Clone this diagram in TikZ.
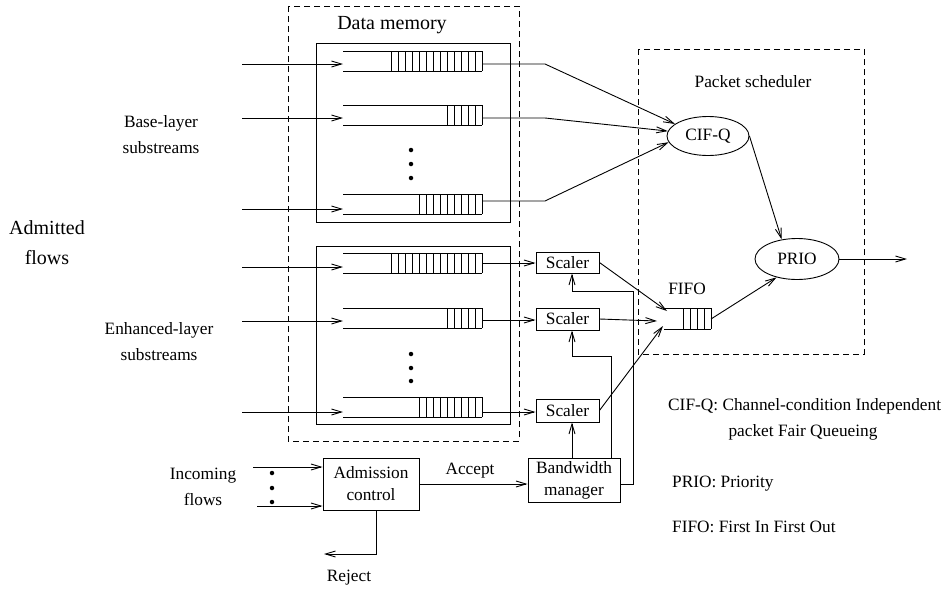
\documentclass[tikz,border=0pt]{standalone}
\usepackage{fontspec}
\setmainfont{Liberation Serif}
\usetikzlibrary{arrows.meta,shapes.geometric}
\tikzset{
  ln/.style={line width=0.9pt},
  arr/.style={ln,-{Straight Barb[length=10pt,width=6pt,line width=0.9pt]}},
  dashbox/.style={ln,dash pattern=on 6pt off 4pt},
  blk/.style={draw,ln,inner sep=0pt,align=center,font=\fontsize{17.3}{22}\selectfont},
  ell/.style={draw,ln,ellipse,inner sep=0pt,font=\fontsize{17.3}{22}\selectfont},
  txt/.style={inner sep=0pt,align=center,font=\fontsize{17.3}{26}\selectfont},
  bigtxt/.style={inner sep=0pt,align=center,font=\fontsize{20}{30}\selectfont},
  dot/.style={circle,fill,inner sep=0pt,minimum size=4.5pt},
}
\begin{document}
\begin{tikzpicture}[x=1pt,y=-1pt]
\useasboundingbox (0,0) rectangle (946,590);

% dashed containers
\draw[dashbox] (288,6) rectangle (519,441);
\draw[dashbox] (638,49) rectangle (864,354);
% solid memory boxes
\draw[ln] (316,43) rectangle (510,222);
\draw[ln] (316,246) rectangle (510,424);

\node[bigtxt] (dmlabel) at (392,25) {Data memory};
\node[txt] (pslabel) at (753,82) {Packet scheduler};

% queues: top, bottom, number of cells
\foreach \t/\b/\n in {51/71/13, 105/125/5, 194/214/9, 253/273/13, 308/328/5, 397/417/9} {
  \draw[ln] (343,\t) -- (482,\t) (343,\b) -- (482,\b);
  \foreach \k in {0,...,\n} \draw[ln] (482-7*\k,\t) -- (482-7*\k,\b);
}
% queue connection points
\coordinate (q1in) at (343,64);  \coordinate (q1out) at (482,64);
\coordinate (q2in) at (343,118); \coordinate (q2out) at (482,118);
\coordinate (q3in) at (343,209); \coordinate (q3out) at (482,201);
\coordinate (q4in) at (343,267); \coordinate (q4out) at (482,263);
\coordinate (q5in) at (343,321); \coordinate (q5out) at (482,320);
\coordinate (q6in) at (343,412); \coordinate (q6out) at (482,412);
\coordinate (srcx) at (242,0);
\foreach \i in {1,...,6} \draw[arr] (srcx |- q\i in) -- (q\i in);

% dots
\foreach \y in {150,164,178,354,368,381} \node[dot] at (411,\y) {};

% left labels
\node[txt] (base) at (161,135) {Base-layer\\substreams};
\node[bigtxt] (adm) at (47,243) {Admitted\\flows};
\node[txt] (enh) at (159,342) {Enhanced-layer\\substreams};

% scheduler
\node[ell,minimum width=82pt,minimum height=39pt] (cifq) at (708,136) {CIF-Q};
\node[ell,minimum width=84pt,minimum height=41pt] (prio) at (797,259) {PRIO};

\coordinate (b1) at (545,64);
\coordinate (b2) at (545,118);
\coordinate (b3) at (545,201);
\draw[arr] (q1out) -- (b1) -- (cifq.160);
\draw[arr] (q2out) -- (b2) -- (cifq.173);
\draw[arr] (q3out) -- (b3) -- (cifq.189);
\draw[arr] (cifq.east) -- (prio.128);
\coordinate (outend) at (907,259);
\draw[arr] (prio.east) -- (outend);

% FIFO
\draw[ln] (664,308) -- (711,308) (664,329) -- (711,329);
\foreach \k in {0,...,4} \draw[ln] (711-7*\k,308) -- (711-7*\k,329);
\node[txt] (fifolabel) at (687,289) {FIFO};
\coordinate (fifoA) at (667,311);
\coordinate (fifoB) at (657,321);
\coordinate (fifoC) at (663,326);
\coordinate (fifoout) at (711,319);
\draw[arr] (fifoout) -- (prio.222);

% scalers
\node[blk,minimum width=63pt,minimum height=21pt] (s1) at (567.5,262.5) {Scaler};
\node[blk,minimum width=63pt,minimum height=22pt] (s2) at (567.5,319) {Scaler};
\node[blk,minimum width=63pt,minimum height=23pt] (s3) at (567.5,410.5) {Scaler};
\draw[arr] (q4out) -- (s1.west |- q4out);
\draw[arr] (q5out) -- (s2.west |- q5out);
\draw[arr] (q6out) -- (s3.west |- q6out);
\draw[arr] (s1.east) -- (fifoA);
\draw[arr] (s2.east) -- (fifoB);
\draw[arr] (s3.east) -- (fifoC);

% admission and bandwidth manager
\node[blk,minimum width=96pt,minimum height=52pt] (admc) at (371,484) {Admission\\control};
\node[blk,minimum width=92pt,minimum height=44pt] (bw) at (574,480) {Bandwidth\\manager};

\coordinate (fx) at (572,0);
\draw[arr] (bw.north -| fx) -- (s3.south -| fx);
\coordinate (k2a) at (611,356);
\coordinate (k2b) at (572,356);
\draw[arr] (bw.north -| k2a) -- (k2a) -- (k2b) -- (s2.south -| k2b);
\coordinate (k1a) at (633,484);
\coordinate (k1b) at (633,291);
\coordinate (k1c) at (572,291);
\draw[arr] (bw.east |- k1a) -- (k1a) -- (k1b) -- (k1c) -- (s1.south -| k1c);

\draw[arr] (admc.east) -- (bw.west |- admc.east);
\node[txt] (accept) at (470,471) {Accept};

\coordinate (in1) at (253,467);
\coordinate (in2) at (257,506);
\draw[arr] (in1) -- (admc.west |- in1);
\draw[arr] (in2) -- (admc.west |- in2);
\foreach \y in {473,488,502} \node[dot] at (272,\y) {};
\node[txt] (incoming) at (203,487) {Incoming\\flows};

\coordinate (rj1) at (376,554);
\coordinate (rj2) at (324,554);
\draw[arr] (admc.south -| rj1) -- (rj1) -- (rj2);
\node[txt] (reject) at (349,578) {Reject};

% legend
\node[txt,anchor=west] (lg1) at (668,406) {CIF-Q: Channel-condition Independent};
\node[txt] (lg2) at (803,432) {packet Fair Queueing};
\node[txt,anchor=west] (lg3) at (672,484) {PRIO: Priority};
\node[txt,anchor=west] (lg4) at (672,527) {FIFO: First In First Out};
\end{tikzpicture}
\end{document}
